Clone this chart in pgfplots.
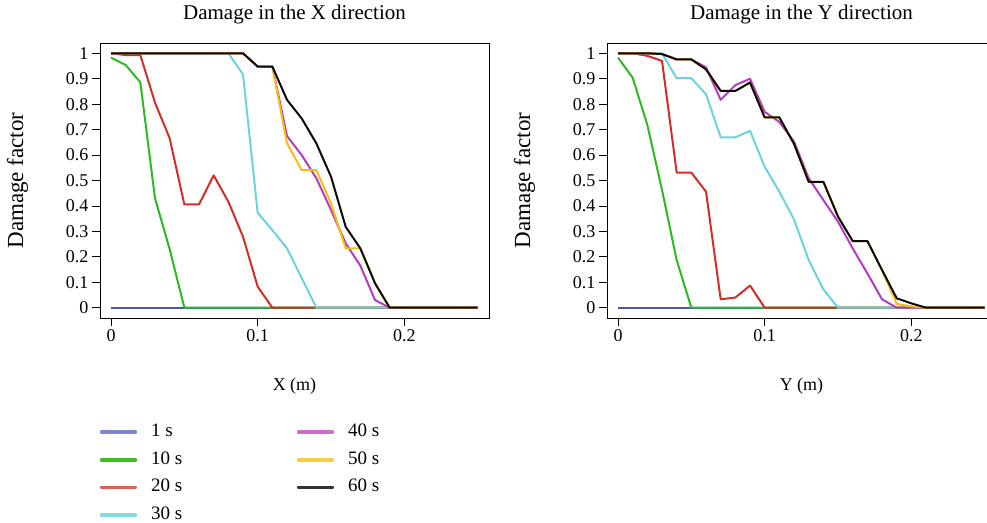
\documentclass[border=0pt]{standalone}
\usepackage{fontspec}
\setmainfont{Liberation Serif}
\usepackage{pgfplots}
\pgfplotsset{compat=1.18}
\definecolor{cA}{RGB}{72,84,196}
\definecolor{cB}{RGB}{45,185,35}
\definecolor{cC}{RGB}{212,45,40}
\definecolor{cD}{RGB}{105,212,222}
\definecolor{cE}{RGB}{180,60,192}
\definecolor{cF}{RGB}{246,188,20}
\definecolor{cG}{RGB}{12,10,8}
\definecolor{legA}{RGB}{125,132,205}
\definecolor{legB}{RGB}{60,190,30}
\definecolor{legC}{RGB}{225,95,90}
\definecolor{legD}{RGB}{130,220,228}
\definecolor{legE}{RGB}{200,110,205}
\definecolor{legF}{RGB}{250,205,70}
\definecolor{legG}{RGB}{50,50,50}
\pgfplotsset{
  dmg/.style={
    scale only axis, width=389bp, height=275bp,
    anchor=south west,
    xmin=-0.0075, xmax=0.2577, ymin=-0.0405, ymax=1.0405,
    xtick={0,0.1,0.2},
    ytick={0,0.1,0.2,0.3,0.4,0.5,0.6,0.7,0.8,0.9,1},
    yticklabels={0,0.1,0.2,0.3,0.4,0.5,0.6,0.7,0.8,0.9,1},
    xticklabels={0,0.1,0.2},
    xtick pos=bottom, ytick pos=left,
    tick align=outside, major tick length=8bp,
    tick style={black, line width=0.8bp},
    axis line style={black, line width=0.9bp},
    font=\fontsize{18bp}{22bp}\selectfont,
    /pgf/number format/assume math mode=true,
    title style={at={(axis description cs:0.5,1.0836)}, anchor=center, font=\fontsize{21bp}{25bp}\selectfont},
    ylabel style={at={(axis description cs:-0.212,0.5)}, anchor=center, font=\fontsize{23bp}{27bp}\selectfont},
    xlabel style={at={(axis description cs:0.5,-0.247)}, anchor=center, font=\fontsize{18bp}{22bp}\selectfont},
    every axis plot/.append style={line width=2bp, line join=round},
  },
  legline/.style={legend image code/.code={\fill[#1] (0bp,-0.7bp) rectangle (35bp,0.7bp);}},
}
\begin{document}
\begin{tikzpicture}
\begin{axis}[dmg, at={(100bp,-318bp)},
  title={Damage in the X direction}, xlabel={X (m)}, ylabel={Damage factor},
  legend columns=2, legend cell align=left,
  legend style={at={(axis description cs:0,-0.3836)}, anchor=north west,
    draw=none, fill=none, inner sep=0pt, row sep=10.6bp,
    font=\fontsize{19bp}{23bp}\selectfont,
    nodes={inner sep=0pt, text height=13bp, text depth=4bp}},
]
\addplot[cA, forget plot] coordinates {(0,0) (0.25,0)};
\addplot[cB, forget plot] coordinates {(0,0.983) (0.01,0.954) (0.02,0.886) (0.03,0.43) (0.04,0.23) (0.05,0) (0.25,0)};
\addplot[cC, forget plot] coordinates {(0,1) (0.01,0.993) (0.02,0.993) (0.03,0.806) (0.04,0.666) (0.05,0.406) (0.06,0.406) (0.07,0.52) (0.08,0.417) (0.09,0.279) (0.10,0.083) (0.11,0) (0.25,0)};
\addplot[cD, forget plot] coordinates {(0,1) (0.08,1) (0.09,0.917) (0.10,0.373) (0.11,0.305) (0.12,0.233) (0.13,0.117) (0.14,0) (0.25,0)};
\addplot[cE, forget plot] coordinates {(0,1) (0.09,1) (0.10,0.948) (0.11,0.948) (0.12,0.675) (0.13,0.60) (0.14,0.509) (0.15,0.384) (0.16,0.253) (0.17,0.165) (0.18,0.03) (0.19,0) (0.25,0)};
\addplot[cF, forget plot] coordinates {(0,1) (0.09,1) (0.10,0.948) (0.11,0.948) (0.12,0.646) (0.13,0.541) (0.14,0.541) (0.15,0.41) (0.16,0.233) (0.17,0.233) (0.18,0.096) (0.19,0) (0.25,0)};
\addplot[cG, forget plot] coordinates {(0,1) (0.09,1) (0.10,0.948) (0.11,0.948) (0.12,0.817) (0.13,0.744) (0.14,0.646) (0.15,0.515) (0.16,0.318) (0.17,0.233) (0.18,0.096) (0.19,0) (0.25,0)};
\addlegendimage{legline=legA}
\addlegendentry{\hspace*{14bp}\makebox[146bp][l]{1 s}}
\addlegendimage{legline=legE}
\addlegendentry{\hspace*{14bp}40 s}
\addlegendimage{legline=legB}
\addlegendentry{\hspace*{14bp}\makebox[146bp][l]{10 s}}
\addlegendimage{legline=legF}
\addlegendentry{\hspace*{14bp}50 s}
\addlegendimage{legline=legC}
\addlegendentry{\hspace*{14bp}\makebox[146bp][l]{20 s}}
\addlegendimage{legline=legG}
\addlegendentry{\hspace*{14bp}60 s}
\addlegendimage{legline=legD}
\addlegendentry{\hspace*{14bp}\makebox[146bp][l]{30 s}}
\end{axis}
\begin{axis}[dmg, at={(607bp,-318bp)},
  title={Damage in the Y direction}, xlabel={Y (m)}, ylabel={Damage factor}]
\addplot[cA] coordinates {(0,0) (0.25,0)};
\addplot[cB] coordinates {(0,0.983) (0.01,0.904) (0.02,0.718) (0.03,0.463) (0.04,0.187) (0.05,0) (0.25,0)};
\addplot[cC] coordinates {(0,1) (0.01,1) (0.02,0.99) (0.03,0.97) (0.04,0.531) (0.05,0.531) (0.06,0.456) (0.07,0.033) (0.08,0.04) (0.09,0.087) (0.10,0) (0.25,0)};
\addplot[cD] coordinates {(0,1) (0.03,1) (0.04,0.902) (0.05,0.902) (0.06,0.839) (0.07,0.67) (0.08,0.67) (0.09,0.695) (0.10,0.554) (0.11,0.456) (0.12,0.347) (0.13,0.187) (0.14,0.072) (0.15,0) (0.25,0)};
\addplot[cE] coordinates {(0,1) (0.02,1) (0.03,0.997) (0.04,0.976) (0.05,0.976) (0.06,0.945) (0.07,0.817) (0.08,0.875) (0.09,0.9) (0.10,0.77) (0.11,0.73) (0.12,0.653) (0.13,0.509) (0.14,0.423) (0.15,0.338) (0.16,0.233) (0.17,0.135) (0.18,0.033) (0.19,0) (0.25,0)};
\addplot[cF] coordinates {(0,1) (0.02,1) (0.03,0.997) (0.04,0.976) (0.05,0.976) (0.06,0.937) (0.07,0.852) (0.08,0.852) (0.09,0.885) (0.10,0.748) (0.11,0.748) (0.12,0.644) (0.13,0.495) (0.14,0.495) (0.15,0.358) (0.16,0.262) (0.17,0.262) (0.18,0.148) (0.19,0.015) (0.20,0.005) (0.21,0) (0.25,0)};
\addplot[cG] coordinates {(0,1) (0.02,1) (0.03,0.997) (0.04,0.976) (0.05,0.976) (0.06,0.937) (0.07,0.852) (0.08,0.852) (0.09,0.885) (0.10,0.748) (0.11,0.748) (0.12,0.644) (0.13,0.495) (0.14,0.495) (0.15,0.358) (0.16,0.262) (0.17,0.262) (0.18,0.148) (0.19,0.037) (0.20,0.017) (0.21,0) (0.25,0)};
\end{axis}
\pgfresetboundingbox
\path[use as bounding box] (0bp,0bp) rectangle (987bp,-523bp);
\end{tikzpicture}
\end{document}
